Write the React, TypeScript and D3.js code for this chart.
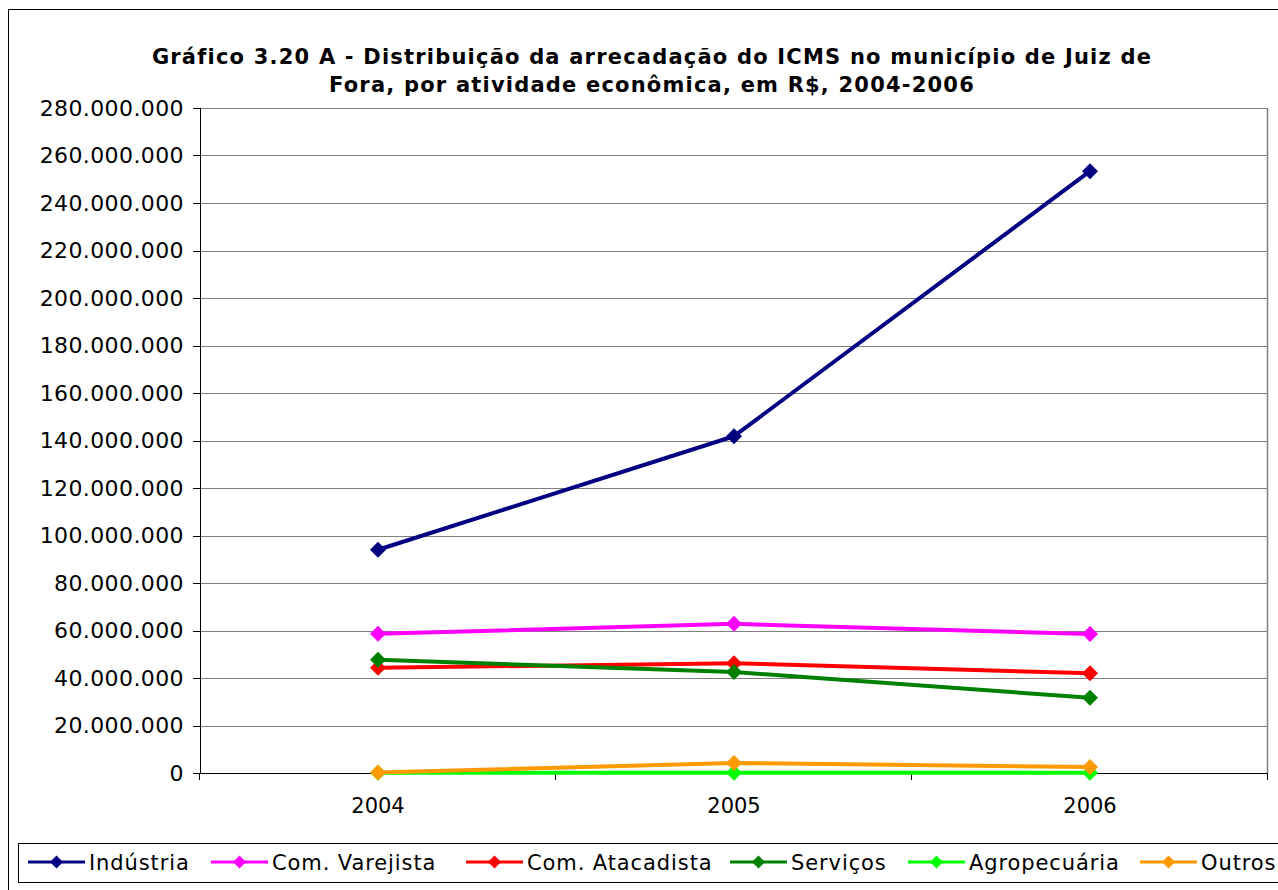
import React from 'react';
import * as d3 from 'd3';

const years = ['2004', '2005', '2006'];
const seriesNames = ['Indústria', 'Com. Varejista', 'Com. Atacadista', 'Serviços', 'Agropecuária', 'Outros'];
const seriesColors = ['#000080', '#FF00FF', '#FF0000', '#008000', '#00FF00', '#FF9900'];

// values in R$
const industria = [94000000, 141800000, 253400000];
const varejista = [58600000, 62800000, 58500000];
const atacadista = [44300000, 46200000, 42000000];
const servicos = [47700000, 42500000, 31700000];
const agropecuaria = [100000, 100000, 100000];
const outros = [200000, 4200000, 2500000];

const seriesValues = [industria, varejista, atacadista, servicos, agropecuaria, outros];
const yTicks = d3.range(0, 280000001, 20000000);
const legendX = [28, 211, 466, 730, 908, 1140];

const titleLines = [
  'Gráfico 3.20 A - Distribuição da arrecadação do ICMS no município de Juiz de',
  'Fora, por atividade econômica, em R$, 2004-2006',
];

const fmt = (v: number) => d3.format(',')(v).replace(/,/g, '.');

const App = () => {
  const left = 200;
  const right = 1268;
  const top = 108;
  const bottom = 773;

  const x = d3.scaleBand<string>().domain(years).range([left, right]);
  const y = d3.scaleLinear().domain([0, 280000000]).range([bottom, top]);
  const cx = (yr: string) => (x(yr) as number) + x.bandwidth() / 2;

  const line = d3.line<number>()
    .x((_, i) => cx(years[i]))
    .y(d => y(d));

  const diamond = (px: number, py: number, r: number) =>
    `M${px},${py - r}L${px + r},${py}L${px},${py + r}L${px - r},${py}Z`;

  const font = 'DejaVu Sans, Verdana, sans-serif';
  const xTickPos = [left, ...years.map(yr => (x(yr) as number) + x.bandwidth())];

  return (
    <svg width={1278} height={890} style={{ position: 'absolute', left: 0, top: 0, background: '#fff' }}>
      {/* outer frame */}
      <rect x={8.5} y={9.5} width={1300} height={900} fill="none" stroke="#000" strokeWidth={1} />

      {/* title */}
      {titleLines.map((t, i) => (
        <text key={i} x={652} y={64 + i * 28} textAnchor="middle" fontFamily={font}
          fontWeight="bold" fontSize={21} letterSpacing={1.2} fill="#000">{t}</text>
      ))}

      {/* gridlines */}
      {yTicks.slice(1).map(t => (
        <line key={t} x1={left} x2={right} y1={Math.round(y(t)) + 0.5} y2={Math.round(y(t)) + 0.5}
          stroke="#808080" strokeWidth={1} />
      ))}
      <line x1={right - 0.5} x2={right - 0.5} y1={top} y2={bottom} stroke="#808080" strokeWidth={1.5} />

      {/* y axis */}
      <line x1={left + 0.5} x2={left + 0.5} y1={top} y2={bottom} stroke="#000" strokeWidth={1} />
      {yTicks.map(t => (
        <g key={t}>
          <line x1={left - 7} x2={left} y1={Math.round(y(t)) + 0.5} y2={Math.round(y(t)) + 0.5} stroke="#000" />
          <text x={184} y={y(t)} dy="0.36em" textAnchor="end" fontFamily={font} fontSize={22} letterSpacing={0.4} fill="#000">
            {fmt(t)}
          </text>
        </g>
      ))}

      {/* x axis */}
      <line x1={left} x2={right} y1={bottom + 0.5} y2={bottom + 0.5} stroke="#000" strokeWidth={1} />
      {xTickPos.map((p, i) => (
        <line key={i} x1={Math.round(p) - 0.5} x2={Math.round(p) - 0.5} y1={bottom} y2={bottom + 7} stroke="#000" />
      ))}
      {years.map(yr => (
        <text key={yr} x={cx(yr)} y={805} dy="0.36em" textAnchor="middle" fontFamily={font} fontSize={21} fill="#000">
          {yr}
        </text>
      ))}

      {/* series */}
      {seriesValues.map((vals, si) => (
        <g key={si}>
          <path d={line(vals) as string} fill="none" stroke={seriesColors[si]} strokeWidth={4} strokeLinejoin="round" />
          {vals.map((v, i) => (
            <path key={i} d={diamond(cx(years[i]), y(v), 8)} fill={seriesColors[si]} />
          ))}
        </g>
      ))}

      {/* legend */}
      <rect x={18.5} y={843.5} width={1300} height={39} fill="#fff" stroke="#000" strokeWidth={1} />
      {seriesNames.map((n, i) => (
        <g key={n}>
          <line x1={legendX[i]} x2={legendX[i] + 57} y1={862} y2={862} stroke={seriesColors[i]} strokeWidth={3} />
          <path d={diamond(legendX[i] + 28.5, 862, 6.5)} fill={seriesColors[i]} />
          <text x={legendX[i] + 61} y={862} dy="0.36em" fontFamily={font} fontSize={21} letterSpacing={0.9} fill="#000">{n}</text>
        </g>
      ))}
    </svg>
  );
};

export default App;
